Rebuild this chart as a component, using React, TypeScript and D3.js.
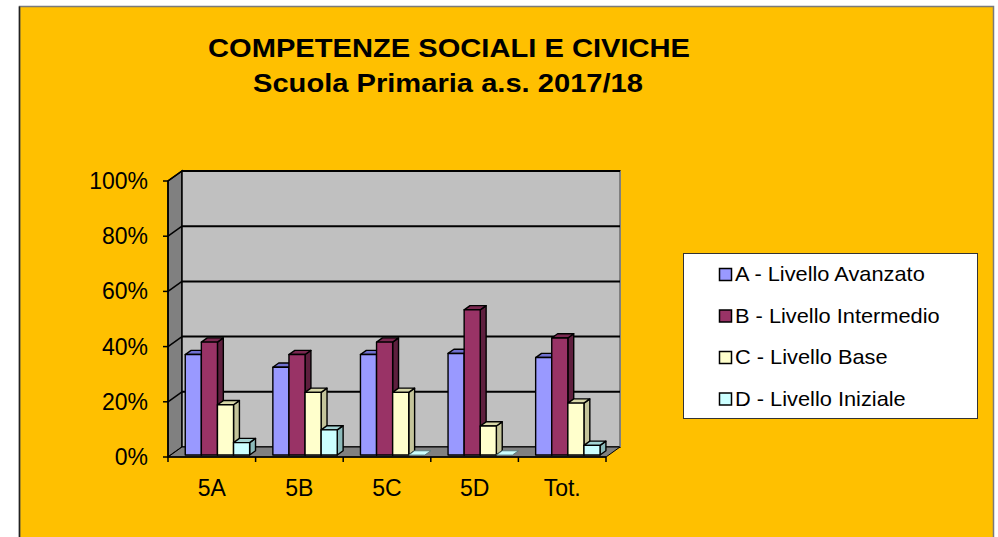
import React from "react";
import * as d3 from "d3";

// dati (percentuali)
const categories = ["5A", "5B", "5C", "5D", "Tot."];
const seriesNames = [
  "A - Livello Avanzato",
  "B - Livello Intermedio",
  "C - Livello Base",
  "D - Livello Iniziale",
];
const livelloA = [36.4, 31.8, 36.4, 36.8, 35.3];
const livelloB = [40.9, 36.4, 40.9, 52.6, 42.4];
const livelloC = [18.2, 22.7, 22.7, 10.5, 18.8];
const livelloD = [4.5, 9.1, 0, 0, 3.5];
const yTicks = [0, 20, 40, 60, 80, 100];

const seriesValues = [livelloA, livelloB, livelloC, livelloD];
const colors = [
  { front: "#9999FF", top: "#7070D0", side: "#6060A8" },
  { front: "#993366", top: "#7A2850", side: "#5E1F3E" },
  { front: "#FFFFCC", top: "#D8D8A8", side: "#C4C49A" },
  { front: "#CCFFFF", top: "#A4D4D4", side: "#8CBABA" },
];

const W = 998;
const H = 537;
const FONT = "'Liberation Sans', Arial, Helvetica, sans-serif";

// piano frontale e profondità 3D
const X0 = 168;
const X1 = 606;
const DX = 14;
const DY = 10;
const D0 = 0.2; // profondità faccia anteriore barre
const D1 = 0.62; // profondità faccia posteriore barre

const App = () => {
  const x = d3.scaleBand().domain(categories).range([X0, X1]);
  const bw = x.bandwidth();
  const inner = d3
    .scaleBand()
    .domain(seriesNames)
    .range([bw * 0.165, bw * 0.9]);
  const y = d3.scaleLinear().domain([0, 100]).range([457, 181]);

  const proj = (px: number, v: number, d: number) => [px + d * DX, y(v) - d * DY];
  const poly = (pts: number[][]) => pts.map((p) => p.join(",")).join(" ");

  const back = (v: number) => proj(X0, v, 1);
  const backR = (v: number) => proj(X1, v, 1);
  const front = (v: number) => proj(X0, v, 0);

  const bars: JSX.Element[] = [];
  categories.forEach((c, ci) => {
    seriesNames.forEach((s, si) => {
      const v = seriesValues[si][ci];
      const bx = (x(c) as number) + (inner(s) as number);
      const w = inner.bandwidth();
      const col = colors[si];
      const f0 = proj(bx, v, D0);
      const f1 = proj(bx + w, 0, D0);
      bars.push(
        <g key={c + s} stroke="#000" strokeWidth={1.4} strokeLinejoin="round">
          {v > 0 && (
            <polygon
              fill={col.side}
              points={poly([
                proj(bx + w, v, D0),
                proj(bx + w, 0, D0),
                proj(bx + w, 0, D1),
                proj(bx + w, v, D1),
              ])}
            />
          )}
          <polygon
            fill={v > 0 ? col.top : col.front}
            strokeWidth={v > 0 ? 1.4 : 0.8}
            stroke={v > 0 ? "#000" : "#4a7070"}
            points={poly([
              proj(bx, v, D0),
              proj(bx + w, v, D0),
              proj(bx + w, v, D1),
              proj(bx, v, D1),
            ])}
          />
          {v > 0 && (
            <rect
              x={f0[0]}
              y={f0[1]}
              width={f1[0] - f0[0]}
              height={f1[1] - f0[1]}
              fill={col.front}
            />
          )}
        </g>
      );
    });
  });

  return (
    <svg
      width={W}
      height={H}
      style={{ position: "absolute", left: 0, top: 0 }}
      fontFamily={FONT}
    >
      <rect x={0} y={0} width={W} height={H} fill="#fff" />
      <rect x={19.5} y={6.5} width={974} height={540} fill="#FFC000" stroke="#7a7a7a" strokeWidth={1.5} />
      <line x1={19.5} y1={6.5} x2={19.5} y2={H} stroke="#222" strokeWidth={1.5} />

      {/* titolo */}
      <text x={449} y={57} textAnchor="middle" fontSize={25} fontWeight="bold" textLength={482} lengthAdjust="spacingAndGlyphs">
        COMPETENZE SOCIALI E CIVICHE
      </text>
      <text x={448} y={92} textAnchor="middle" fontSize={25} fontWeight="bold" textLength={390} lengthAdjust="spacingAndGlyphs">
        Scuola Primaria a.s. 2017/18
      </text>

      {/* pareti */}
      <polygon
        fill="#808080"
        stroke="#000"
        strokeWidth={1.5}
        points={poly([front(0), front(100), back(100), back(0)])}
      />
      <polygon
        fill="#C0C0C0"
        stroke="#000"
        strokeWidth={1.5}
        points={poly([back(0), back(100), backR(100), backR(0)])}
      />
      <line x1={backR(0)[0]} y1={backR(0)[1]} x2={backR(100)[0]} y2={backR(100)[1]} stroke="#808080" strokeWidth={2} />
      <polygon
        fill="#808080"
        stroke="#000"
        strokeWidth={1}
        points={poly([front(0), proj(X1, 0, 0), backR(0), back(0)])}
      />

      {/* griglia */}
      {yTicks.filter((t) => t > 0).map((t) => (
        <g key={t} stroke="#000" strokeWidth={2}>
          <line x1={back(t)[0]} y1={back(t)[1]} x2={backR(t)[0]} y2={backR(t)[1]} />
          <line x1={front(t)[0]} y1={front(t)[1]} x2={back(t)[0]} y2={back(t)[1]} strokeWidth={1.5} />
        </g>
      ))}

      {bars}

      {/* assi */}
      <line x1={X0} y1={y(0)} x2={X0} y2={y(100)} stroke="#000" strokeWidth={1.5} />
      <line x1={X0} y1={y(0)} x2={X1} y2={y(0)} stroke="#000" strokeWidth={1.5} />
      {yTicks.map((t) => (
        <g key={t}>
          <line x1={X0 - 5} x2={X0} y1={y(t)} y2={y(t)} stroke="#000" strokeWidth={1.5} />
          <text x={148} y={y(t) + 8} textAnchor="end" fontSize={23}>
            {t}%
          </text>
        </g>
      ))}
      {categories.map((c) => (
        <line key={"t" + c} x1={x(c)} x2={x(c)} y1={y(0)} y2={y(0) + 5} stroke="#000" strokeWidth={1.5} />
      ))}
      <line x1={X1} x2={X1} y1={y(0)} y2={y(0) + 5} stroke="#000" strokeWidth={1.5} />
      {categories.map((c) => (
        <text key={"l" + c} x={(x(c) as number) + bw / 2} y={496} textAnchor="middle" fontSize={23}>
          {c}
        </text>
      ))}

      {/* legenda */}
      <rect x={683.5} y={253.5} width={294} height={165} fill="#fff" stroke="#333" strokeWidth={1} />
      {seriesNames.map((s, i) => {
        const yy = 281 + i * 41.5;
        return (
          <g key={"leg" + s}>
            <rect x={719.5} y={yy - 12.5} width={12} height={12} fill={colors[i].front} stroke="#000" strokeWidth={1.5} />
            <text
              x={0}
              y={0}
              fontSize={20}
              transform={`translate(735,${yy}) scale(1.09,1)`}
            >
              {s}
            </text>
          </g>
        );
      })}
    </svg>
  );
};

export default App;
